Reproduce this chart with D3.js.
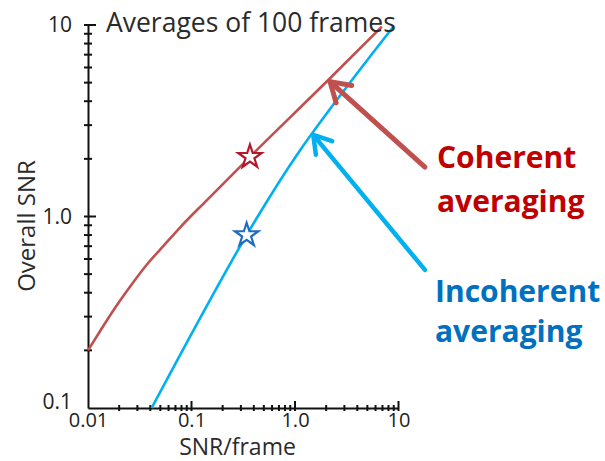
<!DOCTYPE html>
<html>
<head>
<meta charset="utf-8">
<script src="https://cdn.jsdelivr.net/npm/d3@7"></script>
<style>
body { margin: 0; background: #fff; }
svg { display: block; font-family: 'Open Sans', sans-serif; }
</style>
</head>
<body>
<div id="chart"></div>
<script>
// values (log-log axes)
const coherentX = [0.01, 0.01306, 0.01756, 0.02545, 0.03691, 0.05546, 0.07743, 0.1403, 0.367, 2.18, 6.9];
const coherentY = [0.2, 0.2518, 0.323, 0.4295, 0.5596, 0.7166, 0.876, 1.215, 2.05, 5.27, 9.8];
const incoherentX = [0.0412, 0.341, 1.12, 8.9];
const incoherentY = [0.1, 0.8, 2.22, 9.8];
const starX = [0.367, 0.341];
const starY = [2.05, 0.8];
const starColors = ['#b3172b', '#1f6cc0'];
const xTickValues = [0.01, 0.1, 1, 10];
const xTickLabels = ['0.01', '0.1', '1.0', '10'];
const yTickValues = [0.1, 1, 10];
const yTickLabels = ['0.1', '1.0', '10'];
// arrow annotations: [tipX, tipY, tailX, tailY] in data units
const arrowRed = [2.18, 5.06, 18.0, 1.81];
const arrowBlue = [1.5, 2.67, 18.0, 0.526];

const w = 605;
const h = 461;
const padding = { top: 25, right: 206.5, bottom: 53, left: 88 };

const svg = d3.select('#chart').
append('svg').
attr('width', w).
attr('height', h);

const xScale = d3.scaleLog().
domain([0.01, 10]).
range([padding.left, w - padding.right]);

const yScale = d3.scaleLog().
domain([0.1, 10]).
range([h - padding.bottom, padding.top]);

const x0 = padding.left;
const y0 = h - padding.bottom;

// x axis (labels + domain line)
const xAxis = d3.axisBottom(xScale).
tickValues(xTickValues).
tickFormat((d, i) => xTickLabels[i]).
tickSizeInner(0).
tickSizeOuter(0).
tickPadding(5);

svg.append('g').
attr('transform', 'translate(0,' + y0 + ')').
call(xAxis).
call(g => g.select('.domain').attr('stroke', '#111').attr('stroke-width', 2)).
call(g => g.selectAll('text').attr('font-size', 20).attr('fill', '#222').attr('font-family', "'Open Sans', sans-serif"));

const yAxis = d3.axisLeft(yScale).
tickValues(yTickValues).
tickFormat((d, i) => yTickLabels[i]).
tickSizeInner(0).
tickSizeOuter(0).
tickPadding(16);

svg.append('g').
attr('transform', 'translate(' + x0 + ',0)').
call(yAxis).
call(g => g.select('.domain').attr('stroke', '#111').attr('stroke-width', 2)).
call(g => g.selectAll('text').attr('font-size', 21).attr('fill', '#222').attr('font-family', "'Open Sans', sans-serif")).
call(g => g.selectAll('.tick').filter(d => d === 0.1).select('text').attr('dy', '0.02em'));

// crossing tick marks
const isMajor = d => Math.abs(Math.log10(d) - Math.round(Math.log10(d))) < 1e-6;

svg.append('g').
selectAll('line').
data(xScale.ticks().filter(d => d > 0.01)).
enter().
append('line').
attr('x1', d => xScale(d)).
attr('x2', d => xScale(d)).
attr('y1', d => isMajor(d) ? y0 - 7 : y0 - 3).
attr('y2', y0 + 3).
attr('stroke', '#111').
attr('stroke-width', 2);

svg.append('g').
selectAll('line').
data(yScale.ticks().filter(d => d > 0.1)).
enter().
append('line').
attr('y1', d => yScale(d)).
attr('y2', d => yScale(d)).
attr('x1', x0 - 4).
attr('x2', d => isMajor(d) ? x0 + 8 : x0 + 4).
attr('stroke', '#111').
attr('stroke-width', 2);

// curves
const line = d3.line().
x(d => xScale(d[0])).
y(d => yScale(d[1])).
curve(d3.curveMonotoneX);

svg.append('path').
datum(coherentX.map((v, i) => [v, coherentY[i]])).
attr('d', line).
attr('fill', 'none').
attr('stroke', '#c0504d').
attr('stroke-width', 2.6);

svg.append('path').
datum(incoherentX.map((v, i) => [v, incoherentY[i]])).
attr('d', line.curve(d3.curveCatmullRom.alpha(0.5))).
attr('fill', 'none').
attr('stroke', '#00b0f0').
attr('stroke-width', 2.6);

// stars
svg.append('g').
selectAll('path').
data(starX.map((v, i) => ({ x: v, y: starY[i], c: starColors[i] }))).
enter().
append('path').
attr('d', d3.symbol().type(d3.symbolStar).size(170)).
attr('transform', d => 'translate(' + xScale(d.x) + ',' + yScale(d.y) + ')').
attr('fill', '#fff').
attr('stroke', d => d.c).
attr('stroke-width', 2.2);

// arrows
function drawArrow(a, color, width, wing) {
  const tx = xScale(a[0]), ty = yScale(a[1]);
  const sx = xScale(a[2]), sy = yScale(a[3]);
  const ang = Math.atan2(sy - ty, sx - tx);
  const spread = 32 * Math.PI / 180;
  const g = svg.append('g').
  attr('stroke', color).
  attr('stroke-width', width).
  attr('stroke-linecap', 'round').
  attr('stroke-linejoin', 'round').
  attr('fill', 'none');
  g.append('line').
  attr('x1', sx).attr('y1', sy).
  attr('x2', tx).attr('y2', ty);
  g.append('path').
  attr('d', 'M' + (tx + wing * Math.cos(ang - spread)) + ',' + (ty + wing * Math.sin(ang - spread)) +
  'L' + tx + ',' + ty +
  'L' + (tx + wing * Math.cos(ang + spread)) + ',' + (ty + wing * Math.sin(ang + spread)));
}
drawArrow(arrowRed, '#c0504d', 5, 22);
drawArrow(arrowBlue, '#00b0f0', 4.5, 20);

// texts
svg.append('text').
attr('x', 106).
attr('y', 31.5).
attr('font-size', 26.5).
attr('fill', '#2b2b2b').
text('Averages of 100 frames');

svg.append('text').
attr('x', 237.5).
attr('y', 455).
attr('text-anchor', 'middle').
attr('font-size', 23).
attr('fill', '#2b2b2b').
text('SNR/frame');

svg.append('text').
attr('transform', 'translate(35,226) rotate(-90)').
attr('text-anchor', 'middle').
attr('font-size', 24).
attr('fill', '#2b2b2b').
text('Overall SNR');

const labels = svg.append('g').
attr('font-weight', 'bold').
attr('font-size', 30);

labels.append('text').attr('x', 437).attr('y', 168).attr('fill', '#c00000').text('Coherent');
labels.append('text').attr('x', 437).attr('y', 212).attr('fill', '#c00000').text('averaging');
labels.append('text').attr('x', 435).attr('y', 302).attr('fill', '#0070c0').text('Incoherent');
labels.append('text').attr('x', 435).attr('y', 342).attr('fill', '#0070c0').text('averaging');
</script>
</body>
</html>
